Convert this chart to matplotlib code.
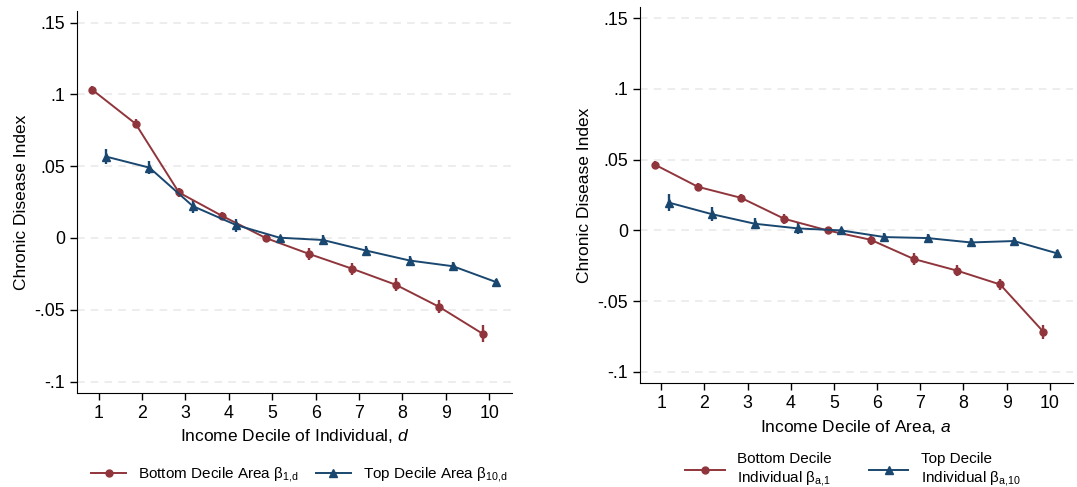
import numpy as np
import matplotlib
matplotlib.use("Agg")
import matplotlib.pyplot as plt
from matplotlib.lines import Line2D

plt.rcParams['font.family'] = ['Liberation Sans', 'DejaVu Sans']
plt.rcParams['mathtext.fontset'] = 'custom'
plt.rcParams['mathtext.rm'] = 'Liberation Sans'
plt.rcParams['mathtext.it'] = 'Liberation Sans:italic'

# DATOS
deciles = np.arange(1, 11)

# panel izquierdo: decil de ingreso del individuo
izq_bottom = [0.1033, 0.0796, 0.0317, 0.0153, 0.0, -0.0111, -0.0215, -0.0326, -0.048, -0.0667]
izq_bottom_ci = [0.0024, 0.003, 0.003, 0.003, 0.0, 0.004, 0.004, 0.0045, 0.0045, 0.006]
izq_top = [0.0567, 0.049, 0.0222, 0.009, 0.0002, -0.0014, -0.0088, -0.0157, -0.0197, -0.0308]
izq_top_ci = [0.005, 0.0045, 0.0045, 0.0045, 0.0, 0.0038, 0.0035, 0.003, 0.003, 0.0025]

# panel derecho: decil de ingreso del área
der_bottom = [0.0465, 0.0308, 0.023, 0.0082, 0.0, -0.0066, -0.0202, -0.0284, -0.0382, -0.0716]
der_bottom_ci = [0.0028, 0.003, 0.003, 0.0035, 0.0, 0.0035, 0.004, 0.004, 0.004, 0.005]
der_top = [0.0197, 0.0115, 0.0047, 0.0014, 0.0, -0.0047, -0.0054, -0.0085, -0.0075, -0.0162]
der_top_ci = [0.006, 0.005, 0.004, 0.004, 0.0, 0.003, 0.003, 0.003, 0.003, 0.0025]

yticks = [-0.1, -0.05, 0, 0.05, 0.1, 0.15]
ytick_labels = ['-.1', '-.05', '0', '.05', '.1', '.15']

ROJO = '#90353b'
AZUL = '#1a476f'

fig = plt.figure(figsize=(10.77, 4.87), dpi=100)
ax1 = fig.add_axes([0.0715, 0.193, 0.404, 0.784])
ax2 = fig.add_axes([0.594, 0.213, 0.402, 0.773])


def panel(ax, bottom, bottom_ci, top, top_ci, xlabel):
    xr = deciles - 0.15
    xb = deciles + 0.17
    for y in yticks:
        ax.axhline(y, color='#e8e8e8', lw=1.1, ls=(0, (5, 4)), zorder=0)
    ax.errorbar(xr, bottom, yerr=bottom_ci, color=ROJO, lw=1.4, marker='o', ms=5,
                elinewidth=1.7, capsize=0, zorder=3)
    ax.errorbar(xb, top, yerr=top_ci, color=AZUL, lw=1.4, marker='^', ms=6,
                elinewidth=1.7, capsize=0, zorder=3)
    ax.set_xlim(0.5, 10.53)
    ax.set_ylim(-0.108, 0.158)
    ax.set_xticks(deciles)
    ax.set_yticks(yticks)
    ax.set_yticklabels(ytick_labels)
    ax.tick_params(labelsize=12.8, length=5, width=1, color='black')
    ax.spines['top'].set_visible(False)
    ax.spines['right'].set_visible(False)
    ax.set_xlabel(xlabel, fontsize=12.5, labelpad=4)
    ax.set_ylabel('Chronic Disease Index', fontsize=12.5, labelpad=4)


panel(ax1, izq_bottom, izq_bottom_ci, izq_top, izq_top_ci,
      'Income Decile of Individual, $\\mathit{d}$')
panel(ax2, der_bottom, der_bottom_ci, der_top, der_top_ci,
      'Income Decile of Area, $\\mathit{a}$')

h_rojo = Line2D([], [], color=ROJO, lw=1.4, marker='o', ms=5)
h_azul = Line2D([], [], color=AZUL, lw=1.4, marker='^', ms=6)

fig.legend([h_rojo, h_azul],
           ['Bottom Decile Area β$_{\\mathrm{1{,}d}}$', 'Top Decile Area β$_{\\mathrm{10{,}d}}$'],
           loc='center', bbox_to_anchor=(0.278, 0.025), ncol=2, frameon=False,
           fontsize=11, handlelength=2.3, handletextpad=0.8, columnspacing=1.1)
fig.legend([h_rojo, h_azul],
           ['Bottom Decile\nIndividual β$_{\\mathrm{a{,}1}}$', 'Top Decile\nIndividual β$_{\\mathrm{a{,}10}}$'],
           loc='center', bbox_to_anchor=(0.792, 0.035), ncol=2, frameon=False,
           fontsize=11, handlelength=2.6, handletextpad=0.8, columnspacing=2.4,
           labelspacing=0.2)

fig.savefig('out.png', dpi=100)
